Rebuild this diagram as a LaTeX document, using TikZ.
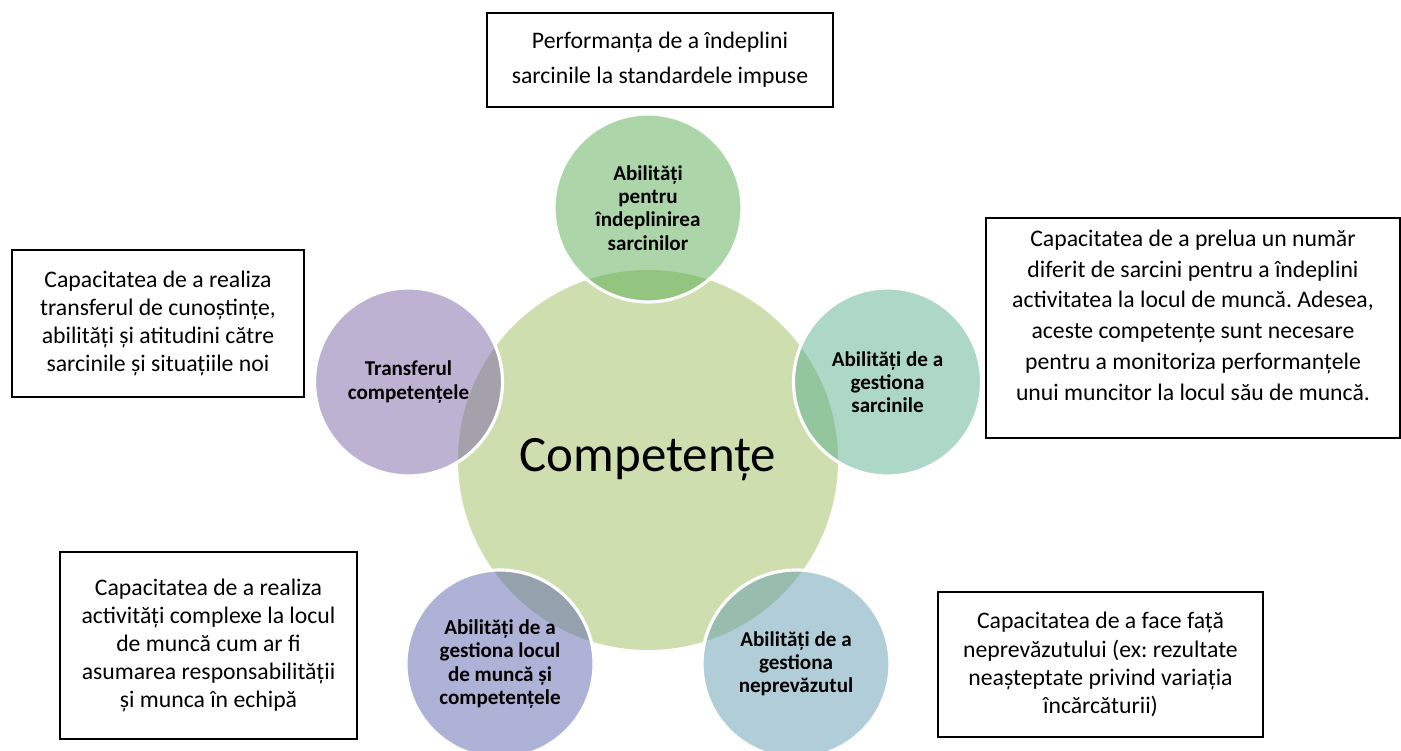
\documentclass[tikz,border=0pt]{standalone}
\usepackage{fontspec}
\setmainfont{Carlito}
\usetikzlibrary{positioning}
\frenchspacing

\definecolor{hubgreen}{RGB}{207,222,174}
\definecolor{tasksgreen}{RGB}{89,173,85}
\definecolor{mgmtteal}{RGB}{91,175,141}
\definecolor{riskblue}{RGB}{99,157,177}
\definecolor{workindigo}{RGB}{93,101,173}
\definecolor{transfviolet}{RGB}{125,101,167}

\begin{document}
\begin{tikzpicture}[
    hub/.style={circle, fill=hubgreen, minimum size=7.6cm, inner sep=0pt, font=\fontsize{29}{33}\selectfont},
    spoke/.style={circle, fill=#1, fill opacity=0.5, text opacity=1, draw=white, line width=1.8pt, minimum size=3.76cm, inner sep=0pt, align=center, font=\bfseries\fontsize{12}{13.2}\selectfont},
    note/.style={rectangle, draw=black, line width=1.1pt, fill=white, inner sep=0pt, align=center, font=\fontsize{13.5}{#1}\selectfont},
    note/.default=16
]
\useasboundingbox (0,0) rectangle (28.02,15.02);

% Central circle
\node[hub] (hub) at (12.96,5.82) {Competențe};

% Surrounding circles
\node[spoke=tasksgreen] (abTasks) at (12.96,10.86) {Abilități\\pentru\\îndeplinirea\\sarcinilor};
\node[spoke=mgmtteal] (abManage) at (17.75,7.38) {Abilități de a\\gestiona\\sarcinile};
\node[spoke=riskblue] (abRisk) at (15.92,1.74) {Abilități de a\\gestiona\\neprevăzutul};
\node[spoke=workindigo] (abWork) at (10.00,1.74) {Abilități de a\\gestiona locul\\de muncă și\\competențele};
\node[spoke=transfviolet] (abTransfer) at (8.17,7.38) {Transferul\\competențele};

% Description boxes
\node[note=20, minimum width=6.92cm, minimum height=1.88cm] (dTasks) at (13.20,13.82) {Performanța de a îndeplini\\sarcinile la standardele impuse};
\node[note=17.6, minimum width=8.28cm, minimum height=4.4cm] (dManage) at (23.86,8.46) {Capacitatea de a prelua un număr\\diferit de sarcini pentru a îndeplini\\activitatea la locul de muncă. Adesea,\\aceste competențe sunt necesare\\pentru a monitoriza performanțele\\unui muncitor la locul său de muncă.\\[-3pt]};
\node[note, minimum width=5.84cm, minimum height=2.94cm] (dTransfer) at (3.16,8.55) {Capacitatea de a realiza\\transferul de cunoștințe,\\abilități și atitudini către\\sarcinile și situațiile noi};
\node[note, minimum width=5.94cm, minimum height=3.74cm] (dWork) at (4.17,2.11) {Capacitatea de a realiza\\activități complexe la locul\\de muncă cum ar fi\\asumarea responsabilității\\și munca în echipă};
\node[note, minimum width=6.5cm, minimum height=2.9cm] (dRisk) at (22.01,1.73) {Capacitatea de a face față\\neprevăzutului (ex: rezultate\\neașteptate privind variația\\încărcăturii)};
\end{tikzpicture}
\end{document}
